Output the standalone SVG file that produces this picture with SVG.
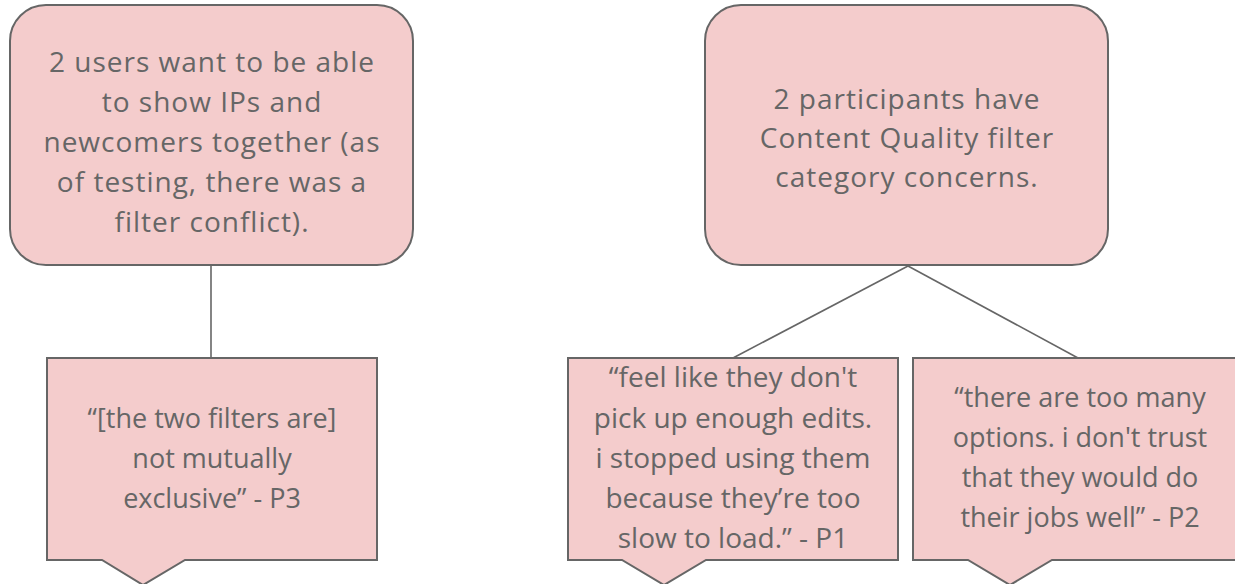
<svg xmlns="http://www.w3.org/2000/svg" width="1235" height="584" viewBox="0 0 1235 584">
<style>
.box{fill:#f4cccc;stroke:#666666;stroke-width:2}
.t{font-family:"Open Sans","Liberation Sans",sans-serif;font-size:27px;fill:#666666;text-anchor:middle}
.big{font-size:28px;letter-spacing:1px}
.mid{font-size:28px}
.c{stroke:#666666;stroke-width:1.6;fill:none}
</style>
<rect width="1235" height="584" fill="#ffffff"/>
<g id="connectors">
<line class="c" x1="211" y1="266" x2="211" y2="358"/>
<line class="c" x1="908" y1="266" x2="733" y2="358"/>
<line class="c" x1="908" y1="266" x2="1078" y2="358"/>
</g>
<g id="n1">
<rect class="box" x="10" y="5" width="403" height="260" rx="36" ry="36"/>
<text class="t big"><tspan x="212" y="72">2 users want to be able</tspan><tspan x="212" y="112">to show IPs and</tspan><tspan x="212" y="152">newcomers together (as</tspan><tspan x="212" y="192">of testing, there was a</tspan><tspan x="212" y="232">filter conflict).</tspan></text>
</g>
<g id="n2">
<rect class="box" x="705" y="5" width="403" height="260" rx="36" ry="36"/>
<text class="t big"><tspan x="907" y="109">2 participants have</tspan><tspan x="907" y="148">Content Quality filter</tspan><tspan x="907" y="187">category concerns.</tspan></text>
</g>
<g id="n3">
<path class="box" d="M47,358 H377 V560 H185 L143,585 L102,560 H47 Z"/>
<text class="t"><tspan x="212" y="428">“[the two filters are]</tspan><tspan x="212" y="468">not mutually</tspan><tspan x="212" y="508">exclusive” - P3</tspan></text>
</g>
<g id="n4">
<path class="box" d="M568,358 H898 V560 H706 L664,585 L622,560 H568 Z"/>
<text class="t mid"><tspan x="733" y="387">“feel like they don't</tspan><tspan x="733" y="428">pick up enough edits.</tspan><tspan x="733" y="468">i stopped using them</tspan><tspan x="733" y="508">because they’re too</tspan><tspan x="733" y="548">slow to load.” - P1</tspan></text>
</g>
<g id="n5">
<path class="box" d="M913,358 H1245 V560 H1052 L1010,585 L968,560 H913 Z"/>
<text class="t"><tspan x="1080" y="407">“there are too many</tspan><tspan x="1080" y="447">options. i don't trust</tspan><tspan x="1080" y="487">that they would do</tspan><tspan x="1080" y="527">their jobs well” - P2</tspan></text>
</g>
</svg>
